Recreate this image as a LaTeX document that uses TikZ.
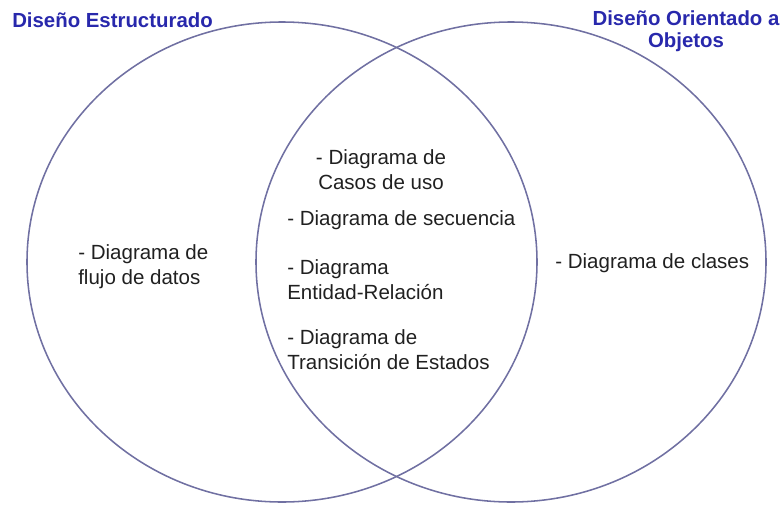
\documentclass[tikz,border=0pt]{standalone}
\usepackage{fontspec}
\setmainfont{Liberation Sans}
\usepackage{tikz}
\usetikzlibrary{positioning}
\definecolor{ringline}{RGB}{112,112,162}
\definecolor{titleblue}{RGB}{40,40,172}
\definecolor{bodytext}{RGB}{32,32,32}

\begin{document}
\begin{tikzpicture}[
    ring/.style={draw=ringline, line width=1.1pt},
    title/.style={font=\bfseries\fontsize{14.5}{15.8}\selectfont, text=titleblue, inner sep=0pt},
    item/.style={font=\fontsize{14.6}{17.7}\selectfont, text=bodytext, inner sep=0pt}]
  \useasboundingbox (0,0) rectangle (19.55,12.6);
  % the two sets
  \draw[ring] (7.05,6.05) ellipse [x radius=6.375, y radius=6.0];
  \draw[ring] (12.775,6.05) ellipse [x radius=6.375, y radius=6.0];
  \node[title, anchor=west] (estruct) at (0.3,12.1) {Diseño Estructurado};
  \node[title, align=center] (objetos) at (17.15,11.825) {Diseño Orientado a\\ Objetos};
  % only structured
  \node[item, anchor=west, align=left] (flujo) at (1.95,5.925) {- Diagrama de\\ flujo de datos};
  % shared
  \node[item, align=center] (casos) at (9.525,8.35) {- Diagrama de\\ Casos de uso};
  \node[item, anchor=west] (secuencia) at (7.175,7.1) {- Diagrama de secuencia};
  \node[item, anchor=west, align=left] (entidad) at (7.175,5.6) {- Diagrama\\ Entidad-Relación};
  \node[item, anchor=west, align=left] (transicion) at (7.175,3.85) {- Diagrama de\\ Transición de Estados};
  % only object oriented
  \node[item, anchor=west] (clases) at (13.875,6.025) {- Diagrama de clases};
\end{tikzpicture}
\end{document}
